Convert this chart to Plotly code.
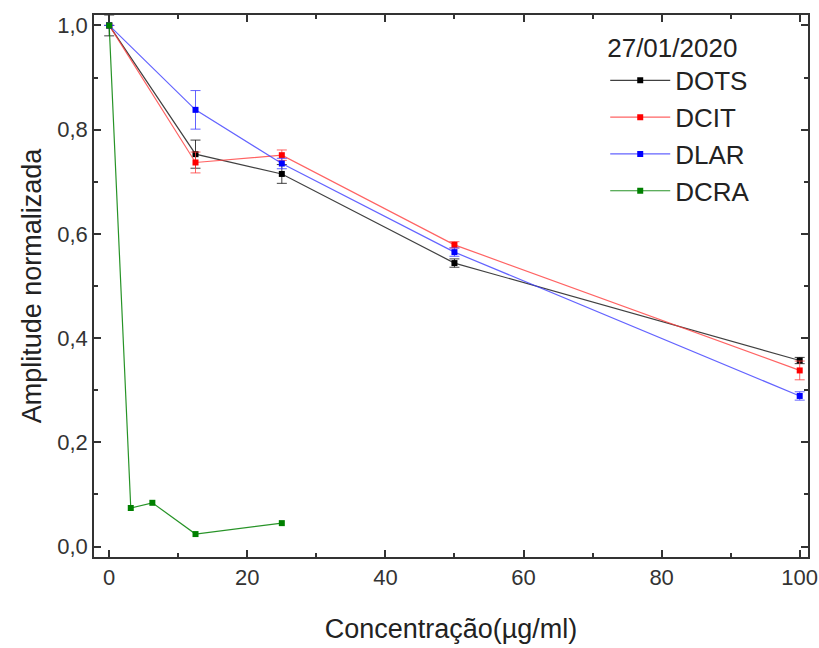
import plotly.graph_objects as go

# Concentrations (µg/ml)
conc_main = [0, 12.5, 25, 50, 100]
conc_dcra = [0, 3.125, 6.25, 12.5, 25]

# Normalized amplitude per sample
dots = [1.0, 0.753, 0.715, 0.544, 0.357]
dots_err = [0.02, 0.027, 0.018, 0.008, 0.006]
dcit = [1.0, 0.737, 0.751, 0.579, 0.338]
dcit_err = [0.0, 0.02, 0.01, 0.006, 0.018]
dlar = [1.0, 0.838, 0.735, 0.565, 0.289]
dlar_err = [0.0, 0.037, 0.01, 0.008, 0.008]
dcra = [1.0, 0.074, 0.084, 0.024, 0.045]

series = [
    ("DOTS", conc_main, dots, dots_err, "#000000", "rgba(0,0,0,0.75)"),
    ("DCIT", conc_main, dcit, dcit_err, "#ff0000", "rgba(255,60,60,0.8)"),
    ("DLAR", conc_main, dlar, dlar_err, "#0000ff", "rgba(60,60,255,0.8)"),
    ("DCRA", conc_dcra, dcra, None, "#008000", "rgba(0,128,0,0.85)"),
]

FONT = "Liberation Sans, Arial, sans-serif"

fig = go.Figure()
for name, x, y, err, mcol, lcol in series:
    fig.add_trace(go.Scatter(
        x=x, y=y, name=name, mode="lines+markers",
        line=dict(color=lcol, width=1.2),
        marker=dict(symbol="square", size=6, color=mcol),
        error_y=(dict(type="data", array=err, color=lcol, thickness=1, width=5)
                 if err else None),
    ))

axis_common = dict(
    showline=True, linecolor="#333333", linewidth=1.5, mirror="ticks",
    ticks="inside", ticklen=7, tickwidth=1.5, tickcolor="#333333",
    showgrid=False, zeroline=False, automargin=False,
    tickfont=dict(family=FONT, size=22, color="#333333"),
)

fig.update_xaxes(
    range=[-2.2, 101.2], tickvals=[0, 20, 40, 60, 80, 100],
    minor=dict(ticks="inside", ticklen=4, tickwidth=1.5, tickcolor="#333333",
               tickvals=[10, 30, 50, 70, 90]),
    title=dict(text="Concentração(µg/ml)", standoff=30,
               font=dict(family=FONT, size=27, color="#222222")),
    **axis_common,
)
fig.update_yaxes(
    range=[-0.02, 1.02], tickvals=[0, 0.2, 0.4, 0.6, 0.8, 1.0], tickformat=".1f",
    minor=dict(ticks="inside", ticklen=4, tickwidth=1.5, tickcolor="#333333",
               tickvals=[0.1, 0.3, 0.5, 0.7, 0.9]),
    title=dict(text="Amplitude normalizada", standoff=8,
               font=dict(family=FONT, size=27, color="#222222")),
    **axis_common,
)

fig.update_layout(
    width=819, height=648,
    margin=dict(l=94, r=11, t=15, b=91, autoexpand=False),
    separators=",.",
    plot_bgcolor="white", paper_bgcolor="white",
    font=dict(family=FONT, color="#222222"),
    showlegend=True,
    legend=dict(
        x=0.716, y=0.985, xanchor="left", yanchor="top",
        bgcolor="rgba(0,0,0,0)",
        title=dict(text="27/01/2020", font=dict(family=FONT, size=26, color="#222222")),
        font=dict(family=FONT, size=26, color="#222222"),
        itemwidth=60, tracegroupgap=0,
    ),
)

fig.write_html("out.html")
